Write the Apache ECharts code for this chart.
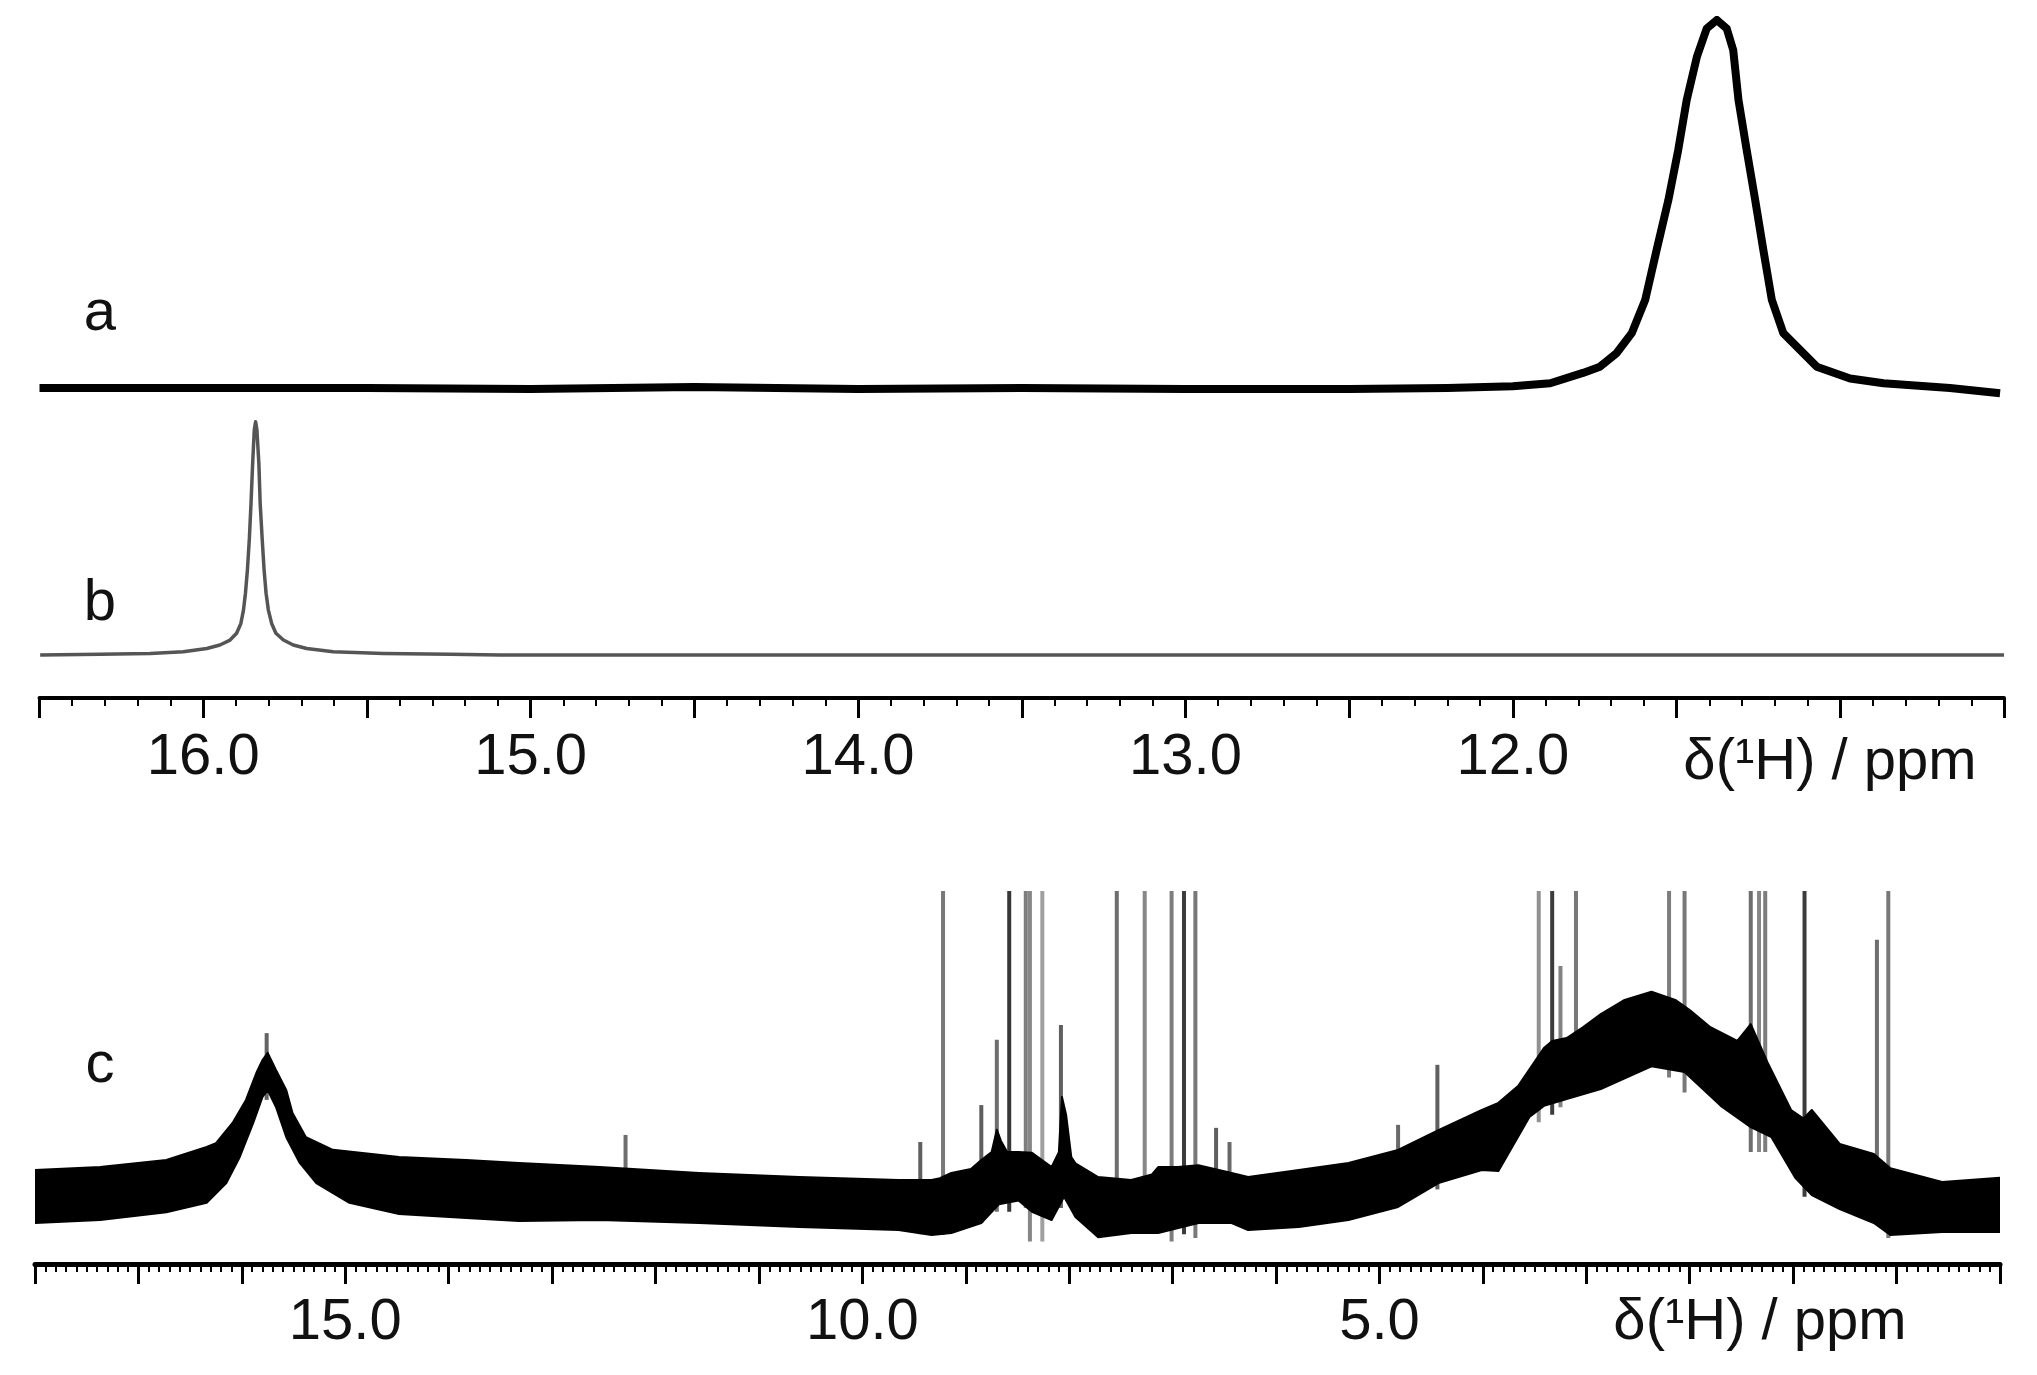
<!DOCTYPE html>
<html><head><meta charset="utf-8">
<script src="https://cdn.jsdelivr.net/npm/echarts@6/dist/echarts.min.js"></script>
<style>html,body{margin:0;padding:0;background:#fff}#c{width:2037px;height:1375px}</style>
</head><body><div id="c"></div>
<script>
// ---------- Trace a (top, noisy, peak near 11.38 ppm) ----------
const aPpm = [16.5, 16.0, 15.5, 15.0, 14.5, 14.0, 13.5, 13.0, 12.5, 12.2, 12.0, 11.886, 11.786, 11.734, 11.683, 11.637, 11.596, 11.561, 11.525, 11.495, 11.469, 11.438, 11.408, 11.377, 11.347, 11.327, 11.311, 11.286, 11.260, 11.235, 11.209, 11.174, 11.072, 10.970, 10.868, 10.665, 10.512];
const aInt = [0, 0, 0, -0.3, 0.3, -0.3, 0, -0.3, -0.3, 0, 0.5, 1.3, 4.1, 5.8, 9.5, 14.9, 23.9, 37.5, 51.1, 64.7, 78.3, 90.0, 97.7, 100, 97.7, 91.8, 78.3, 64.7, 51.1, 37.5, 23.9, 14.9, 5.8, 2.6, 1.3, 0, -1.4];

// ---------- Trace b (sharp peak near 15.84 ppm) ----------
const bPpm = [16.498, 16.315, 16.162, 16.061, 15.989, 15.949, 15.918, 15.898, 15.885, 15.877, 15.871, 15.865, 15.859, 15.854, 15.849, 15.844, 15.840, 15.836, 15.830, 15.826, 15.820, 15.814, 15.808, 15.801, 15.791, 15.778, 15.755, 15.725, 15.684, 15.603, 15.450, 15.246, 15.093, 10.5];
const bInt = [0, 0.3, 0.7, 1.4, 2.8, 4.3, 6.4, 9.3, 13.5, 19.2, 26.4, 36.3, 49.9, 64.8, 81.9, 96.2, 99.7, 96.2, 81.9, 64.8, 49.9, 36.3, 26.4, 19.2, 13.5, 9.3, 6.4, 4.3, 2.8, 1.4, 0.7, 0.3, 0, 0];

// ---------- Trace c (full spectrum): upper and lower edges of the noise band ----------
const cUpperPpm = [18.0, 17.37, 16.73, 16.34, 16.25, 16.09, 15.96, 15.86, 15.80, 15.75, 15.67, 15.57, 15.51, 15.38, 15.12, 14.48, 13.83, 13.32, 12.54, 11.58, 10.61, 9.65, 9.33, 9.25, 9.14, 8.95, 8.85, 8.75, 8.70, 8.66, 8.60, 8.49, 8.36, 8.17, 8.10, 8.07, 8.03, 7.98, 7.94, 7.72, 7.40, 7.20, 7.14, 6.95, 6.75, 6.43, 6.27, 5.78, 5.30, 4.82, 4.43, 4.01, 3.85, 3.66, 3.41, 3.33, 3.19, 3.03, 2.86, 2.63, 2.37, 2.14, 2.00, 1.80, 1.54, 1.41, 1.25, 1.02, 0.90, 0.82, 0.55, 0.22, 0.06, -0.44, -1.0];
const cUpper    = [25.2, 26.0, 27.9, 31.4, 32.4, 37.8, 44.0, 51.2, 54.7, 56.6, 52.0, 46.6, 40.5, 34.0, 30.6, 28.7, 27.9, 27.1, 26.0, 24.4, 23.3, 22.5, 22.5, 23.0, 24.4, 25.5, 27.9, 30.0, 36.0, 33.0, 30.0, 30.0, 29.8, 26.0, 30.0, 44.8, 40.0, 28.7, 27.0, 23.3, 22.5, 24.0, 26.0, 26.0, 26.5, 24.4, 23.3, 25.2, 27.1, 30.6, 35.9, 41.3, 43.2, 47.7, 57.9, 59.8, 60.6, 63.5, 67.0, 70.8, 73.0, 70.8, 68.1, 63.5, 59.8, 64.3, 54.2, 41.3, 39.0, 41.3, 32.2, 29.5, 25.7, 22.0, 23.1];
const cLowerPpm = [18.0, 17.37, 16.73, 16.34, 16.15, 16.02, 15.89, 15.80, 15.75, 15.67, 15.57, 15.44, 15.28, 14.96, 14.48, 13.83, 13.32, 12.54, 11.58, 10.61, 9.65, 9.33, 9.14, 8.85, 8.68, 8.49, 8.36, 8.17, 8.05, 7.94, 7.72, 7.40, 7.14, 6.75, 6.43, 6.27, 5.78, 5.30, 4.82, 4.43, 4.01, 3.85, 3.55, 3.41, 3.19, 2.86, 2.37, 2.05, 1.70, 1.41, 1.21, 0.98, 0.82, 0.55, 0.22, 0.06, -0.44, -1.0];
const cLower    = [11.0, 11.8, 13.9, 16.4, 21.7, 28.7, 37.8, 44.8, 46.6, 42.1, 34.0, 27.1, 21.7, 16.4, 13.4, 12.3, 11.5, 11.8, 11.0, 9.9, 9.1, 7.8, 8.3, 11.0, 16.0, 17.0, 14.0, 11.8, 18.0, 12.6, 7.2, 8.3, 8.3, 11.0, 11.0, 9.1, 9.9, 11.8, 15.3, 21.7, 25.2, 24.9, 39.4, 42.4, 44.2, 46.9, 53.0, 51.5, 42.4, 36.7, 34.0, 23.1, 18.5, 14.7, 11.0, 7.8, 8.6, 8.6];

// sharp resonances in trace c (100 = clipped at the top of the panel)
const spikePpm    = [15.76, 12.29, 9.44, 9.22, 8.85, 8.70, 8.58, 8.42, 8.38, 8.26, 8.08, 7.54, 7.27, 7.01, 6.89, 6.78, 6.58, 6.45, 4.82, 4.44, 3.46, 3.33, 3.25, 3.10, 2.20, 2.05, 1.41, 1.33, 1.27, 0.89, 0.19, 0.08];
const spikeTop    = [61.9, 34.6, 32.7, 100, 42.6, 60.1, 100, 100, 100, 100, 64.1, 100, 100, 100, 100, 100, 36.5, 32.7, 37.3, 53.4, 100, 100, 79.9, 100, 100, 100, 100, 100, 100, 100, 86.9, 100];
const spikeBottom = [44, 13, 8, 7.8, 11, 14, 14, 15, 6, 6, 15, 8, 10, 6, 8, 7, 11, 11, 16, 20, 38, 40, 42, 45, 50, 46, 30, 30, 30, 18, 11, 7];
const spikeGrey   = [100, 110, 95, 120, 95, 110, 55, 125, 135, 160, 95, 110, 135, 125, 60, 120, 95, 105, 105, 95, 145, 60, 130, 120, 125, 120, 110, 135, 125, 60, 110, 120];

// ---------- Axis labels ----------
const topTickLabels = [16, 15, 14, 13, 12];
const bottomTickLabels = [15, 10, 5];
const traceNames = ['a', 'b', 'c'];
const axisTitle = 'δ(¹H) / ppm';

function hasFont(name) {
  const ctx = document.createElement('canvas').getContext('2d');
  const s = '16.0 δ(¹H) / ppm abc';
  ctx.font = '70px monospace'; const w1 = ctx.measureText(s).width;
  ctx.font = '70px "' + name + '", monospace'; const w2 = ctx.measureText(s).width;
  return Math.abs(w1 - w2) > 0.5;
}
const narrow = hasFont('Liberation Sans Narrow');
const FAM = narrow ? '"Liberation Sans Narrow", "Liberation Sans", sans-serif' : '"Liberation Sans", Arial, sans-serif';
const FS = narrow ? 68 : 58;

const chart = echarts.init(document.getElementById('c'), null, { renderer: 'canvas' });

const baseX = {
  type: 'value', inverse: true, splitLine: { show: false },
  axisLine: { show: true, onZero: false, lineStyle: { color: '#000', width: 4 } },
  axisTick: { show: true, length: 20, lineStyle: { color: '#000', width: 3 } },
  minorTick: { show: true, length: 8, lineStyle: { color: '#000', width: 2 } },
  minorSplitLine: { show: false }
};

function txt(x, y, s) {
  return { type: 'text', x: x, y: y, silent: true,
    style: { text: s, font: FS + 'px ' + FAM, fill: '#111', align: 'center', verticalAlign: 'middle', textAlign: 'center', textVerticalAlign: 'middle' } };
}

function band(upP, up, loP, lo) {
  return (params, api) => {
    const pts = [];
    for (let i = 0; i < upP.length; i++) pts.push(api.coord([upP[i], up[i]]));
    for (let i = loP.length - 1; i >= 0; i--) pts.push(api.coord([loP[i], lo[i]]));
    return { type: 'polygon', shape: { points: pts }, style: { fill: '#000', stroke: '#000', lineWidth: 2, lineJoin: 'round' } };
  };
}

const option = {
  backgroundColor: '#fff',
  animation: false,
  grid: [
    { left: 39.5, width: 1964.5, top: 20, height: 404.8 },
    { left: 39.5, width: 1964.5, top: 421, height: 277.1 },
    { left: 35, width: 1965, top: 891, height: 373 }
  ],
  xAxis: [
    { gridIndex: 0, type: 'value', inverse: true, min: 10.5, max: 16.5, show: false },
    Object.assign({}, baseX, {
      gridIndex: 1, min: 10.5, max: 16.5, interval: 0.5,
      minorTick: Object.assign({}, baseX.minorTick, { splitNumber: 5 }),
      axisLabel: {
        show: true, margin: 31, color: '#111', fontSize: FS, fontFamily: FAM,
        showMinLabel: true, showMaxLabel: true, hideOverlap: false,
        formatter: v => topTickLabels.some(t => Math.abs(t - v) < 1e-6) ? v.toFixed(1) : ''
      }
    }),
    Object.assign({}, baseX, {
      gridIndex: 2, min: -1, max: 18, interval: 1,
      axisLine: { show: true, onZero: false, lineStyle: { color: '#000', width: 5 } },
      minorTick: Object.assign({}, baseX.minorTick, { splitNumber: 10, length: 8 }),
      axisLabel: {
        show: true, margin: 30, color: '#111', fontSize: FS, fontFamily: FAM,
        showMinLabel: true, showMaxLabel: true, hideOverlap: false,
        formatter: v => bottomTickLabels.some(t => Math.abs(t - v) < 1e-6) ? v.toFixed(1) : ''
      }
    })
  ],
  yAxis: [
    { gridIndex: 0, type: 'value', min: -10, max: 100, show: false },
    { gridIndex: 1, type: 'value', min: -18.4, max: 100, show: false },
    { gridIndex: 2, type: 'value', min: 0, max: 100, show: false }
  ],
  graphic: [
    txt(100, 314, traceNames[0]),
    txt(100, 604, traceNames[1]),
    txt(100, 1066, traceNames[2]),
    txt(1830, 763, axisTitle),
    txt(1760, 1323, axisTitle)
  ],
  series: [
    {
      name: 'a', type: 'line', xAxisIndex: 0, yAxisIndex: 0, showSymbol: false, silent: true,
      data: aPpm.map((p, i) => [p, aInt[i]]),
      lineStyle: { color: '#000', width: 8, join: 'round' }
    },
    {
      name: 'b', type: 'line', xAxisIndex: 1, yAxisIndex: 1, showSymbol: false, silent: true,
      data: bPpm.map((p, i) => [p, bInt[i]]),
      lineStyle: { color: '#555', width: 3.5, join: 'round' }
    },
    {
      name: 'c-spikes', type: 'custom', xAxisIndex: 2, yAxisIndex: 2, silent: true, z: 1, clip: true,
      data: spikePpm.map((p, i) => [p, spikeBottom[i], spikeTop[i], spikeGrey[i]]),
      encode: { x: 0, y: [1, 2] },
      renderItem: (params, api) => {
        const x = api.value(0);
        const p1 = api.coord([x, api.value(1)]);
        const p2 = api.coord([x, api.value(2)]);
        const g = api.value(3);
        return { type: 'line', shape: { x1: p1[0], y1: p1[1], x2: p2[0], y2: p2[1] },
          style: { stroke: 'rgb(' + g + ',' + g + ',' + g + ')', lineWidth: 4 } };
      }
    },
    {
      name: 'c', type: 'custom', xAxisIndex: 2, yAxisIndex: 2, silent: true, z: 2, clip: true,
      data: [[cUpperPpm[0], cUpper[0]]],
      encode: { x: 0, y: 1 },
      renderItem: band(cUpperPpm, cUpper, cLowerPpm, cLower)
    }
  ]
};
chart.setOption(option);
</script>
</body></html>
